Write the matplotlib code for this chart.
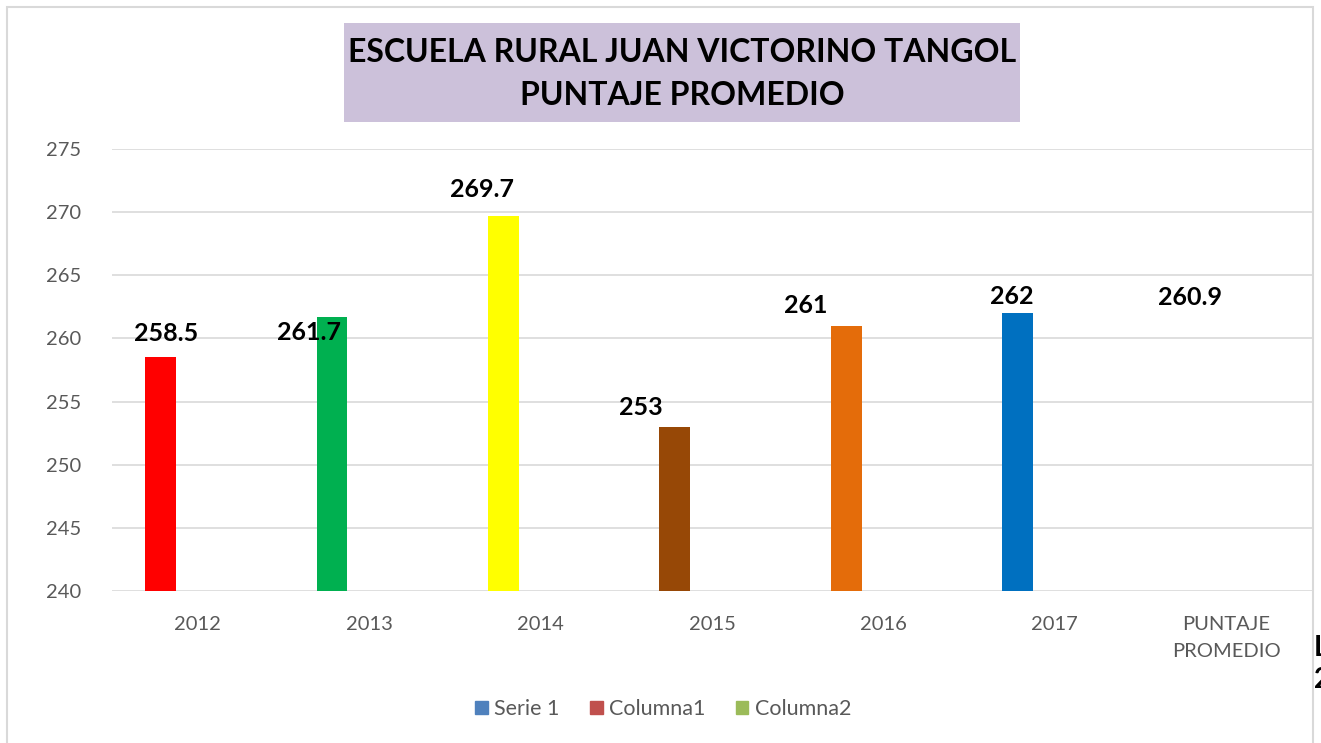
import matplotlib.pyplot as plt
import numpy as np
from matplotlib.patches import Rectangle, Patch

plt.rcParams["font.family"] = ["Lato", "DejaVu Sans"]

categories = ["2012", "2013", "2014", "2015", "2016", "2017", "PUNTAJE\nPROMEDIO"]
scores = [258.5, 261.7, 269.7, 253, 261, 262, 260.9]
score_labels = ["258.5", "261.7", "269.7", "253", "261", "262", "260.9"]
bar_colors = ["#FF0000", "#00B050", "#FFFF00", "#974806", "#E46C0A", "#0070C0", "none"]
legend_names = ["Serie 1", "Columna1", "Columna2"]
legend_colors = ["#4F81BD", "#C0504D", "#9BBB59"]

# label nudges in pixels (dx, dy from bar top), placed by hand in the original
label_nudge = [(6, 24), (-23, -16), (-21, 26), (-34, 19), (-40, 20), (-6, 17), (1, 30)]

fig = plt.figure(figsize=(13.21, 7.43), dpi=100)
ax = fig.add_axes([112 / 1321, 1 - 591 / 743, 1200 / 1321, 442 / 743])

x = np.arange(len(categories))
offset = -0.217
ax.bar(x + offset, [s - 240 for s in scores], bottom=240, width=0.18,
       color=bar_colors, zorder=3)

for xi, s, lab, (dx, dy) in zip(x, scores, score_labels, label_nudge):
    ax.annotate(lab, (xi + offset, s), xytext=(dx * 0.72, dy * 0.72),
                textcoords="offset points", ha="center", va="center",
                fontsize=18, fontweight="bold", color="black", zorder=4)

ax.set_xlim(-0.5, 6.5)
ax.set_ylim(240, 275)
ax.set_yticks(np.arange(240, 276, 5))
ax.set_xticks(x)
ax.set_xticklabels(categories, linespacing=1.7, va="top")
ax.tick_params(axis="both", length=0, labelsize=14.5, colors="#595959")
ax.tick_params(axis="x", pad=18)
ax.tick_params(axis="y", pad=22)
ax.grid(axis="y", color="#D9D9D9", linewidth=1.2, zorder=0)
for sp in ax.spines.values():
    sp.set_visible(False)

# chart frame
fig.patches.append(Rectangle((7 / 1321, -0.05), 1306 / 1321, 1 - 7 / 743 + 0.05,
                             transform=fig.transFigure, fill=False,
                             edgecolor="#D9D9D9", linewidth=1.5))

# title box
fig.patches.append(Rectangle((344 / 1321, 1 - 122 / 743), 676 / 1321, 99 / 743,
                             transform=fig.transFigure, facecolor="#CCC1DA",
                             edgecolor="none"))
fig.text(682 / 1321, 1 - 74 / 743, "ESCUELA RURAL JUAN VICTORINO TANGOL\nPUNTAJE PROMEDIO",
         ha="center", va="center", fontsize=23, fontweight="bold",
         linespacing=1.55)

# cut-off text at the right edge
fig.text(1314 / 1321, 1 - 664 / 743, "L\n2", ha="left", va="center",
         fontsize=20, fontweight="bold", linespacing=1.3)

handles = [Patch(color=c, label=n) for c, n in zip(legend_colors, legend_names)]
fig.legend(handles=handles, loc="center", bbox_to_anchor=(663 / 1321, 1 - 709 / 743),
           ncol=3, frameon=False, fontsize=15.5, handlelength=0.6, handleheight=0.6,
           handletextpad=0.3, columnspacing=1.4, labelcolor="#595959")

fig.savefig("out.png", dpi=100)
